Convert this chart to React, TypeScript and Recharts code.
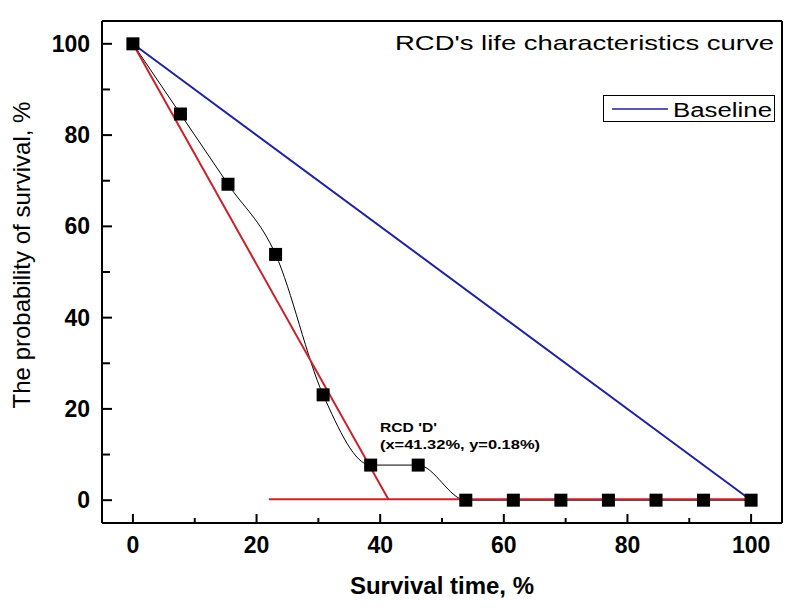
import React from 'react'
import {
    ComposedChart,
    Line,
    Scatter,
    XAxis,
    YAxis,
    ReferenceLine
} from 'recharts'

// measured points (survival time %, probability of survival %)
const survivalTime = [0, 7.69, 15.38, 23.08, 30.77, 38.46, 46.15, 53.85, 61.54, 69.23, 76.92, 84.62, 92.31, 100]
const survivalProb = [100, 84.62, 69.23, 53.85, 23.08, 7.69, 7.69, 0, 0, 0, 0, 0, 0, 0]

// baseline (linear wear-out)
const baselineX = [0, 100]
const baselineY = [100, 0]

// red fit line and its floor
const fitX = [0, 41.32]
const fitY = [100, 0.18]
const floorX = [22, 100]
const floorY = [0.18, 0.18]

const xTicks = [0, 10, 20, 30, 40, 50, 60, 70, 80, 90, 100]
const yTicks = [0, 10, 20, 30, 40, 50, 60, 70, 80, 90, 100]

const pts = (xs: number[], ys: number[]) => xs.map((x, i) => ({ x, y: ys[i] }))

const curveData = pts(survivalTime, survivalProb)
const baselineData = pts(baselineX, baselineY)
const fitData = pts(fitX, fitY)
const floorData = pts(floorX, floorY)

const BLUE = '#1f239c'
const RED = '#c8232b'
const FONT = 'Liberation Sans, Arial, sans-serif'

const XTick = (props: any) => {
    const { x, y, payload } = props
    const major = payload.value % 20 === 0
    return (
        <g>
            <line x1={x} x2={x} y1={y} y2={y - (major ? 9 : 5)} stroke="#000" strokeWidth={2} />
            {major && (
                <text x={x} y={y + 30} textAnchor="middle" fontFamily={FONT} fontWeight="bold" fontSize={23} fill="#000">
                    {payload.value}
                </text>
            )}
        </g>
    )
}

const YTick = (props: any) => {
    const { x, y, payload } = props
    const major = payload.value % 20 === 0
    return (
        <g>
            <line x1={x} x2={x + (major ? 10 : 8)} y1={y} y2={y} stroke="#000" strokeWidth={2} />
            {major && (
                <text x={x - 12} y={y + 8} textAnchor="end" fontFamily={FONT} fontWeight="bold" fontSize={23} fill="#000">
                    {payload.value}
                </text>
            )}
        </g>
    )
}

const Square = (props: any) => {
    const { cx, cy } = props
    return <rect x={cx - 6.5} y={cy - 6.5} width={13} height={13} fill="#000" />
}

const App = () => {
    return (
        <div style={{ position: 'absolute', left: 0, top: 0, width: 796, height: 611, background: '#fff' }}>
            <ComposedChart
                width={796}
                height={611}
                margin={{ top: 21, right: 14, bottom: 0, left: 0 }}
            >
                <XAxis
                    dataKey="x"
                    type="number"
                    domain={[-5, 105]}
                    ticks={xTicks}
                    interval={0}
                    allowDataOverflow
                    height={88}
                    tickSize={0}
                    tickMargin={0}
                    tick={<XTick />}
                    tickLine={false}
                    axisLine={{ stroke: '#000', strokeWidth: 2 }}
                />
                <YAxis
                    dataKey="y"
                    type="number"
                    domain={[-5, 105]}
                    ticks={yTicks}
                    interval={0}
                    allowDataOverflow
                    width={102}
                    tickSize={0}
                    tickMargin={0}
                    tick={<YTick />}
                    tickLine={false}
                    axisLine={{ stroke: '#000', strokeWidth: 2 }}
                />
                <ReferenceLine y={105} stroke="#000" strokeWidth={2} />
                <ReferenceLine x={105} stroke="#000" strokeWidth={2} />

                <Scatter data={curveData} fill="#000" shape={<Square />} isAnimationActive={false} />
                <Line data={curveData} dataKey="y" type="monotone" stroke="#000" strokeWidth={1} dot={false} activeDot={false} isAnimationActive={false} />
                <Line data={baselineData} dataKey="y" type="linear" stroke={BLUE} strokeWidth={2} dot={false} activeDot={false} isAnimationActive={false} />
                <Line data={fitData} dataKey="y" type="linear" stroke={RED} strokeWidth={2} dot={false} activeDot={false} isAnimationActive={false} />
                <Line data={floorData} dataKey="y" type="linear" stroke={RED} strokeWidth={2} dot={false} activeDot={false} isAnimationActive={false} />

                {/* title + legend */}
                <text x={395} y={50} fontFamily={FONT} fontSize={21} fill="#000" textLength={379} lengthAdjust="spacingAndGlyphs">
                    RCD's life characteristics curve
                </text>
                <rect x={603.5} y={95.5} width={171} height={26} fill="#fff" stroke="#000" strokeWidth={1} />
                <line x1={612} x2={668} y1={109} y2={109} stroke={BLUE} strokeWidth={1.5} />
                <text x={673} y={116.5} fontFamily={FONT} fontSize={20} fill="#000" textLength={99} lengthAdjust="spacingAndGlyphs">
                    Baseline
                </text>

                {/* annotation */}
                <text x={380} y={432} fontFamily={FONT} fontWeight="bold" fontSize={12} fill="#000" textLength={57} lengthAdjust="spacingAndGlyphs">
                    RCD 'D'
                </text>
                <text x={380} y={449} fontFamily={FONT} fontWeight="bold" fontSize={12} fill="#000" textLength={160} lengthAdjust="spacingAndGlyphs">
                    (x=41.32%, y=0.18%)
                </text>

                {/* axis titles */}
                <text x={30} y={255} transform="rotate(-90 30 255)" textAnchor="middle" fontFamily={FONT} fontSize={24} fill="#000">
                    The probability of survival, %
                </text>
                <text x={442} y={594} textAnchor="middle" fontFamily={FONT} fontWeight="bold" fontSize={24} fill="#000">
                    Survival time, %
                </text>
            </ComposedChart>
        </div>
    )
}

export default App
